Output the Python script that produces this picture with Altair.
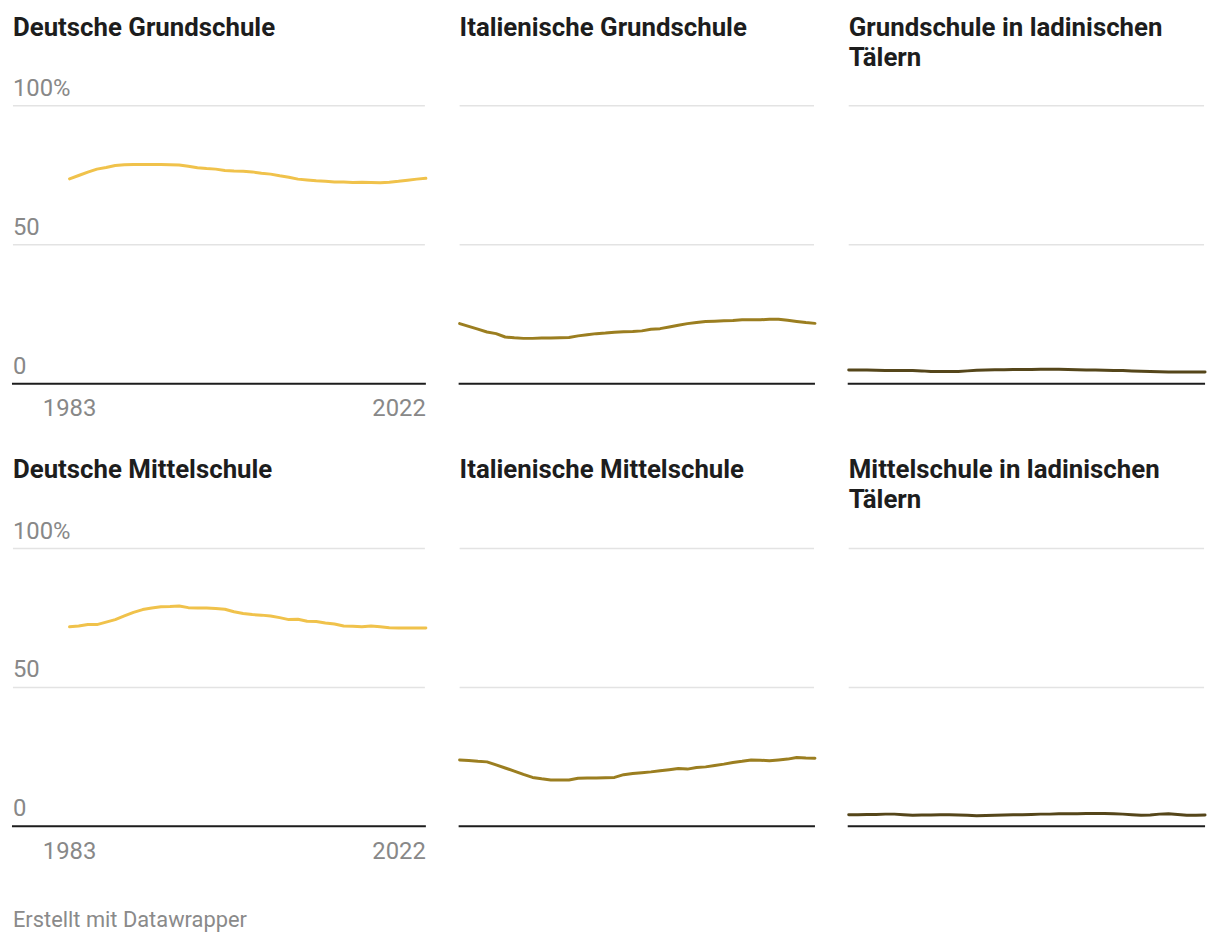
import altair as alt
import pandas as pd

years = list(range(1983, 2023))

deutsche_grundschule = [73.7, 74.9, 76.1, 77.2, 77.8, 78.5, 78.8, 78.9, 78.9, 78.9,
                        78.9, 78.8, 78.7, 78.2, 77.7, 77.4, 77.2, 76.7, 76.5, 76.4,
                        76.2, 75.7, 75.4, 74.8, 74.3, 73.6, 73.3, 73.0, 72.8, 72.6,
                        72.6, 72.4, 72.5, 72.4, 72.3, 72.5, 72.8, 73.2, 73.6, 73.9]
italienische_grundschule = [21.6, 20.6, 19.6, 18.6, 18.0, 16.8, 16.5, 16.3, 16.3, 16.4,
                            16.4, 16.5, 16.6, 17.2, 17.6, 18.0, 18.2, 18.5, 18.7, 18.8,
                            19.0, 19.6, 19.8, 20.4, 21.0, 21.6, 22.0, 22.4, 22.5, 22.6,
                            22.7, 23.0, 23.0, 23.0, 23.2, 23.2, 22.8, 22.4, 22.0, 21.7]
ladinische_grundschule = [4.9, 4.9, 4.9, 4.8, 4.7, 4.7, 4.7, 4.7, 4.6, 4.4,
                          4.4, 4.4, 4.4, 4.6, 4.8, 4.9, 5.0, 5.0, 5.1, 5.1,
                          5.1, 5.2, 5.2, 5.2, 5.1, 5.0, 4.9, 4.9, 4.8, 4.7,
                          4.7, 4.6, 4.5, 4.4, 4.3, 4.2, 4.2, 4.2, 4.2, 4.2]
deutsche_mittelschule = [71.8, 72.1, 72.6, 72.6, 73.5, 74.4, 75.7, 77.0, 78.0, 78.6,
                         79.0, 79.1, 79.3, 78.7, 78.6, 78.6, 78.4, 78.1, 77.2, 76.6,
                         76.2, 76.0, 75.7, 75.1, 74.4, 74.5, 73.8, 73.7, 73.2, 72.8,
                         72.1, 72.0, 71.8, 72.1, 71.8, 71.5, 71.4, 71.4, 71.4, 71.4]
italienische_mittelschule = [23.9, 23.7, 23.4, 23.2, 22.1, 21.0, 19.9, 18.7, 17.6, 17.1,
                             16.7, 16.7, 16.7, 17.3, 17.4, 17.4, 17.5, 17.6, 18.6, 19.0,
                             19.3, 19.6, 20.0, 20.4, 20.8, 20.6, 21.2, 21.4, 21.9, 22.4,
                             23.0, 23.4, 23.9, 23.8, 23.6, 23.9, 24.2, 24.8, 24.6, 24.5]
ladinische_mittelschule = [4.2, 4.2, 4.3, 4.3, 4.4, 4.4, 4.2, 4.0, 4.1, 4.1,
                           4.2, 4.2, 4.1, 4.0, 3.8, 3.9, 4.0, 4.1, 4.2, 4.2,
                           4.3, 4.4, 4.4, 4.5, 4.5, 4.5, 4.6, 4.6, 4.6, 4.5,
                           4.4, 4.2, 4.0, 4.1, 4.4, 4.5, 4.3, 4.0, 4.0, 4.1]

titles = ["Deutsche Grundschule", "Italienische Grundschule", "Grundschule in ladinischen\nTälern",
          "Deutsche Mittelschule", "Italienische Mittelschule", "Mittelschule in ladinischen\nTälern"]
series = [deutsche_grundschule, italienische_grundschule, ladinische_grundschule,
          deutsche_mittelschule, italienische_mittelschule, ladinische_mittelschule]
colors = ["#f0c24b", "#9b7e20", "#55461a", "#f0c24b", "#9b7e20", "#55461a"]

grid_values = [50, 100]
baseline_values = [0]
y_tick_values = [0, 50, 100]
y_tick_labels = ["0", "50", "100%"]
x_tick_years = [1983, 2022]
footer = "Erstellt mit Datawrapper"

FONT = "Roboto"
H = 280
widths = [416, 358, 359]
x_ranges = [[57, 416], [0, 358], [0, 359]]


def panel(i):
    col = i % 3
    w = widths[col]
    xs = alt.Scale(domain=[1983, 2022], range=x_ranges[col], nice=False, zero=False)
    ys = alt.Scale(domain=[0, 100], nice=False)
    df = pd.DataFrame({"Jahr": years, "Anteil": series[i]})

    grid = alt.Chart(pd.DataFrame({"v": grid_values})).mark_rule(
        color="#e3e3e3", strokeWidth=1.5
    ).encode(
        y=alt.Y("v:Q", scale=ys, axis=None),
        x=alt.value(0), x2=alt.value(w - 1),
    )
    base = alt.Chart(pd.DataFrame({"v": baseline_values})).mark_rule(
        color="#1d1d1d", strokeWidth=2
    ).encode(
        y=alt.Y("v:Q", scale=ys, axis=None),
        x=alt.value(-1), x2=alt.value(w),
    )
    line = alt.Chart(df).mark_line(
        color=colors[i], strokeWidth=3, strokeJoin="round", strokeCap="round"
    ).encode(
        x=alt.X("Jahr:Q", scale=xs, axis=None),
        y=alt.Y("Anteil:Q", scale=ys, axis=None),
    )
    title = alt.Chart(pd.DataFrame({"t": [titles[i]]})).mark_text(
        font=FONT, fontSize=26, fontWeight="bold", color="#1d1d1d",
        align="left", baseline="alphabetic", lineBreak="\n", lineHeight=30,
    ).encode(
        text="t:N", x=alt.value(0), y=alt.value(-70.5),
    )
    layers = [grid, base, line, title]
    if col == 0:
        ylab = alt.Chart(pd.DataFrame({"v": y_tick_values, "l": y_tick_labels})).mark_text(
            font=FONT, fontSize=24, color="#888888", align="left", baseline="alphabetic", dy=-10,
        ).encode(
            y=alt.Y("v:Q", scale=ys, axis=None), text="l:N", x=alt.value(0),
        )
        xdf = pd.DataFrame({"Jahr": x_tick_years, "l": [str(v) for v in x_tick_years]})
        xl1 = alt.Chart(xdf.iloc[:1]).mark_text(
            font=FONT, fontSize=24, color="#888888", align="center", baseline="alphabetic",
        ).encode(x=alt.X("Jahr:Q", scale=xs, axis=None), text="l:N", y=alt.value(H + 33))
        xl2 = alt.Chart(xdf.iloc[1:]).mark_text(
            font=FONT, fontSize=24, color="#888888", align="right", baseline="alphabetic",
        ).encode(x=alt.X("Jahr:Q", scale=xs, axis=None), text="l:N", y=alt.value(H + 33))
        layers += [ylab, xl1, xl2]
        if i == 3:
            foot = alt.Chart(pd.DataFrame({"t": [footer]})).mark_text(
                font=FONT, fontSize=22, color="#8a8a8a", align="left", baseline="alphabetic",
            ).encode(text="t:N", x=alt.value(0), y=alt.value(H + 101))
            layers.append(foot)
    return alt.layer(*layers).properties(width=w, height=H)


row1 = alt.hconcat(panel(0), panel(1), panel(2), spacing=34, bounds="flush")
row2 = alt.hconcat(panel(3), panel(4), panel(5), spacing=34, bounds="flush")
chart = alt.vconcat(row1, row2, spacing=446, bounds="flush").properties(
    padding={"left": 3, "top": 3, "right": 5, "bottom": 5}
).configure(font=FONT, background="white").configure_view(strokeWidth=0, stroke="transparent")

chart.save("out.html", embed_options={"renderer": "svg", "actions": False})
